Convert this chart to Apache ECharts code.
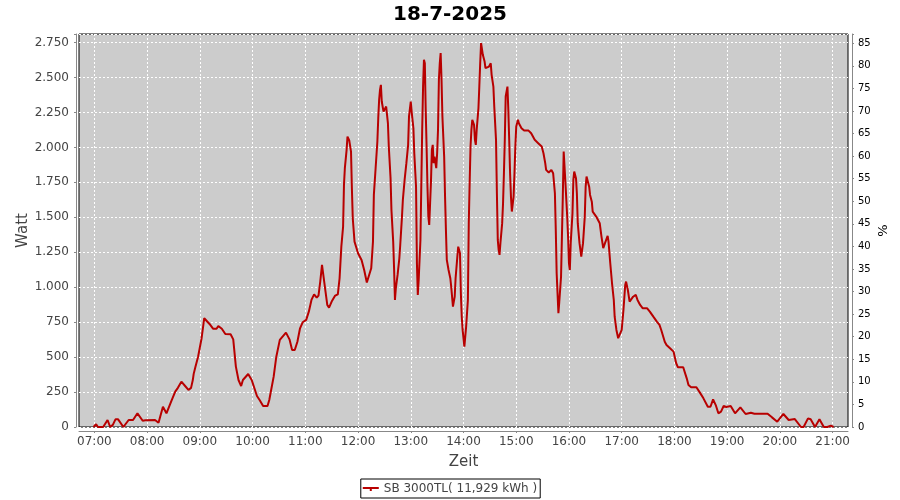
<!DOCTYPE html>
<html>
<head>
<meta charset="utf-8">
<script src="https://cdn.jsdelivr.net/npm/echarts@6/dist/echarts.min.js"></script>
<style>html,body{margin:0;padding:0;background:#fff}#c{width:900px;height:500px}</style>
</head>
<body>
<div id="c"></div>
<script>
var title = '18-7-2025';
var seriesName = 'SB 3000TL( 11,929 kWh )';
var xTickLabels = ['07:00','08:00','09:00','10:00','11:00','12:00','13:00','14:00','15:00','16:00','17:00','18:00','19:00','20:00','21:00'];
var times = ['06:59','07:02','07:04','07:10','07:15','07:18','07:21','07:24','07:27','07:33','07:35','07:39','07:44','07:49','07:55','07:58','08:09','08:13','08:15','08:18','08:22','08:24','08:28','08:32','08:35','08:39','08:43','08:47','08:50','08:52','08:53','08:55','08:58','09:02','09:05','09:06','09:11','09:15','09:19','09:21','09:25','09:29','09:35','09:38','09:41','09:44','09:47','09:49','09:55','09:59','10:05','10:08','10:12','10:17','10:19','10:24','10:27','10:31','10:38','10:42','10:45','10:48','10:51','10:54','10:57','11:01','11:04','11:07','11:10','11:13','11:15','11:17','11:19','11:20','11:23','11:25','11:27','11:30','11:34','11:37','11:39','11:41','11:43','11:44','11:45','11:47','11:48','11:50','11:52','11:53','11:54','11:56','12:00','12:04','12:07','12:10','12:12','12:15','12:17','12:18','12:20','12:22','12:23','12:24','12:25','12:26','12:27','12:29','12:32','12:33','12:34','12:35','12:37','12:38','12:40','12:41','12:42','12:43','12:45','12:47','12:48','12:50','12:51','12:53','12:55','12:57','12:58','13:00','13:01','13:03','13:04','13:06','13:07','13:08','13:09','13:11','13:12','13:13','13:14','13:15','13:16','13:17','13:18','13:19','13:20','13:21','13:22','13:23','13:24','13:25','13:26','13:27','13:29','13:30','13:31','13:32','13:33','13:34','13:35','13:36','13:38','13:39','13:40','13:41','13:43','13:45','13:46','13:47','13:48','13:49','13:50','13:51','13:53','13:54','13:56','13:57','13:58','13:59','14:01','14:02','14:03','14:05','14:06','14:07','14:08','14:09','14:10','14:12','14:13','14:14','14:15','14:17','14:18','14:19','14:20','14:21','14:22','14:24','14:25','14:27','14:29','14:31','14:32','14:34','14:35','14:37','14:38','14:39','14:40','14:41','14:42','14:44','14:45','14:46','14:47','14:48','14:50','14:51','14:52','14:53','14:54','14:55','14:57','14:58','14:59','15:00','15:02','15:03','15:06','15:09','15:14','15:17','15:21','15:25','15:29','15:31','15:33','15:34','15:37','15:40','15:42','15:44','15:45','15:46','15:48','15:49','15:51','15:52','15:53','15:54','15:55','15:56','15:57','15:58','15:59','16:00','16:01','16:02','16:04','16:05','16:06','16:08','16:09','16:10','16:12','16:14','16:16','16:18','16:19','16:20','16:22','16:23','16:24','16:26','16:27','16:31','16:35','16:37','16:39','16:41','16:44','16:45','16:47','16:49','16:51','16:52','16:54','16:56','16:58','17:00','17:02','17:04','17:05','17:07','17:09','17:11','17:13','17:16','17:18','17:21','17:24','17:29','17:32','17:36','17:40','17:43','17:45','17:49','17:51','17:55','17:59','18:02','18:04','18:10','18:14','18:16','18:19','18:25','18:29','18:33','18:38','18:41','18:44','18:47','18:50','18:53','18:56','18:59','19:04','19:09','19:15','19:21','19:27','19:31','19:46','19:51','19:57','20:04','20:10','20:17','20:24','20:27','20:32','20:35','20:40','20:45','20:50','20:54','20:58','21:00','21:01'];
var watts = [0,20,0,0,50,0,15,55,55,0,10,50,50,98,45,48,50,30,30,145,98,98,193,253,280,324,295,265,280,336,380,431,503,635,778,785,737,703,703,723,703,665,663,627,432,336,293,336,379,336,222,193,150,150,193,360,503,623,675,627,551,551,610,706,749,766,825,909,949,925,940,1040,1159,1111,968,873,854,897,940,949,1064,1290,1433,1732,1851,1982,2077,2050,1970,1708,1493,1326,1243,1195,1123,1033,1033,1135,1326,1660,1851,2042,2209,2340,2411,2447,2328,2256,2292,2304,2173,2006,1780,1553,1326,1135,909,992,1088,1207,1300,1505,1624,1767,1887,2018,2221,2328,2256,2137,1958,1719,1171,945,1052,1338,1732,2125,2435,2626,2602,2268,2006,1719,1505,1445,1600,1755,1982,2018,1887,1934,1851,1958,2125,2483,2602,2674,2483,2221,1934,1648,1410,1195,1123,1064,1004,932,861,849,932,1064,1219,1290,1243,957,789,694,575,587,718,909,1458,1744,2006,2125,2197,2161,2054,2018,2125,2280,2435,2602,2746,2733,2662,2614,2567,2555,2578,2602,2519,2435,2292,2054,1672,1338,1267,1231,1315,1458,1600,1815,2054,2364,2435,2268,2054,1815,1648,1541,1648,1815,2006,2149,2197,2173,2137,2120,2120,2101,2054,2030,2006,1958,1887,1839,1820,1839,1815,1672,1410,1100,814,897,1076,1362,1648,1970,1970,1744,1744,1505,1362,1171,1123,1315,1529,1767,1827,1780,1672,1458,1315,1219,1315,1505,1719,1791,1780,1719,1660,1612,1541,1505,1458,1362,1279,1315,1367,1326,1171,1028,909,789,694,635,623,694,837,1016,1040,980,897,897,932,945,909,873,849,849,825,789,754,730,694,610,587,563,539,456,427,427,348,300,284,284,246,205,145,145,198,157,98,110,150,143,150,98,141,93,102,95,95,69,38,93,50,57,0,0,62,55,0,55,0,0,10,8,0];
var wattTicks = [0,250,500,750,1000,1250,1500,1750,2000,2250,2500,2750];

function toMin(s){var p=s.split(':');return (+p[0])*60+(+p[1]);}
var tickMinutes = xTickLabels.map(toMin);
var data = times.map(function(t,i){return [toMin(t), watts[i]];});
function fmtW(v){ if (wattTicks.indexOf(v)<0) return ''; var s=String(v); return s.length>3 ? s.slice(0,s.length-3)+'.'+s.slice(-3) : s; }
function fmtT(v){ var h=Math.floor(v/60), m=Math.round(v%60); return (h<10?'0':'')+h+':'+(m<10?'0':'')+m; }

var chart = echarts.init(document.getElementById('c'), null, {renderer:'canvas'});
chart.setOption({
  animation:false,
  backgroundColor:'#ffffff',
  textStyle:{fontFamily:'DejaVu Sans'},
  title:{text:title,left:'center',top:0,textStyle:{fontFamily:'DejaVu Sans',fontSize:20,fontWeight:'bold',color:'#000'}},
  legend:{bottom:2,left:'center',data:[{name:seriesName,icon:'path://M0,3 L16,3 L16,5 L0,5 Z M7,4 L9,4 L9,7 L7,7 Z'}],itemWidth:16,itemHeight:7,itemGap:5,
    borderColor:'#000',borderWidth:1,padding:[4,3,3,2],backgroundColor:'#fff',
    textStyle:{fontFamily:'DejaVu Sans',fontSize:12,color:'#444'}},
  grid:{left:79,top:34,right:52,bottom:73,show:true,backgroundColor:'#cccccc',borderColor:'#000',borderWidth:1,outerBoundsMode:'none'},
  xAxis:{type:'value',min:402.5,max:1277.5,offset:4,
    name:'Zeit',nameLocation:'middle',nameGap:24,nameMoveOverlap:false,nameTextStyle:{fontFamily:'DejaVu Sans',fontSize:15,color:'#444'},
    axisLine:{show:true,onZero:false,lineStyle:{color:'#888',width:1}},
    axisTick:{show:true,length:2,customValues:tickMinutes,lineStyle:{color:'#888'}},
    axisLabel:{customValues:tickMinutes,formatter:fmtT,margin:5,fontFamily:'DejaVu Sans',fontSize:12,color:'#444'},
    splitLine:{show:true,lineStyle:{color:'#ffffff',type:[2,2],width:1}}},
  yAxis:[
    {type:'value',min:0,max:2811,interval:250,offset:3,position:'left',
     name:'Watt',nameLocation:'middle',nameGap:45,nameMoveOverlap:false,nameTextStyle:{fontFamily:'DejaVu Sans',fontSize:15,color:'#444'},
     axisLine:{show:true,lineStyle:{color:'#888',width:1}},
     axisTick:{show:true,length:2,lineStyle:{color:'#888'}},
     axisLabel:{formatter:fmtW,margin:7,fontFamily:'DejaVu Sans',fontSize:12,color:'#444'},
     splitLine:{show:true,lineStyle:{color:'#ffffff',type:[2,2],width:1}}},
    {type:'value',min:0,max:87.06,interval:5,offset:4,position:'right',
     name:'%',nameLocation:'middle',nameGap:25,nameMoveOverlap:false,nameTextStyle:{fontFamily:'DejaVu Sans',fontSize:13,color:'#000'},
     axisLine:{show:true,lineStyle:{color:'#888',width:1}},
     axisTick:{show:true,length:2,lineStyle:{color:'#888'}},
     axisLabel:{formatter:function(v){return (v%5===0)?String(v):'';},margin:6,fontFamily:'DejaVu Sans',fontSize:10,color:'#000'},
     splitLine:{show:false}}
  ],
  series:[{name:seriesName,type:'line',data:data,showSymbol:false,symbol:'none',
    lineStyle:{color:'#b80000',width:2},itemStyle:{color:'#b80000'},z:3}]
});
</script>
</body>
</html>
